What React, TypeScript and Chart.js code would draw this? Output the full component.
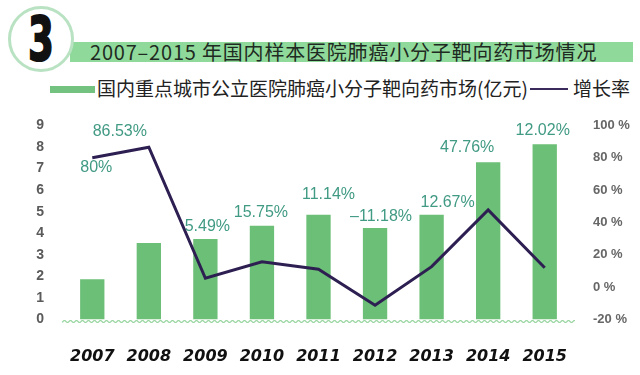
import React, { useEffect, useRef } from "react";
import { Chart, registerables } from "chart.js";

Chart.register(...registerables);

const years = ["2007", "2008", "2009", "2010", "2011", "2012", "2013", "2014", "2015"];
const marketSize = [1.87, 3.55, 3.74, 4.35, 4.86, 4.25, 4.86, 7.29, 8.13];
const growthRate = [80, 86.53, 5.49, 15.75, 11.14, -11.18, 12.67, 47.76, 12.02];
const leftTicks = [0, 9, 1];
const rightTicks = [-20, 100, 20];

const titleText = "2007–2015 年国内样本医院肺癌小分子靶向药市场情况";
const barLegend = "国内重点城市公立医院肺癌小分子靶向药市场(亿元)";
const lineLegend = "增长率";

// label placement: anchor ('line' or 'bar') and small pixel nudges
const labelAnchor = ["line", "line", "bar", "bar", "bar", "bar", "bar", "bar", "bar"];
const labelDx = [4, -29, 2, -1, 10, 6, 16, -21, -2];
const labelDy = [10, -16, -12, -13, -20, -11, -12, -15, -14];

const fmtRate = (v: number) => `${v}%`.replace("-", "–");

const labelPlugin = {
  id: "rateLabels",
  afterDatasetsDraw(chart: any) {
    const ctx = chart.ctx;
    const barMeta = chart.getDatasetMeta(0);
    const lineMeta = chart.getDatasetMeta(1);
    ctx.save();
    ctx.font = "16px 'Liberation Sans', Arial, sans-serif";
    ctx.fillStyle = "#419a84";
    ctx.textAlign = "center";
    ctx.textBaseline = "middle";
    growthRate.forEach((v, i) => {
      const el = labelAnchor[i] === "line" ? lineMeta.data[i] : barMeta.data[i];
      ctx.fillText(fmtRate(v), el.x + labelDx[i], el.y + labelDy[i]);
    });
    ctx.restore();
  },
};

const wavyBase = {
  id: "wavyBase",
  beforeDatasetsDraw(chart: any) {
    const { ctx, chartArea } = chart;
    const y = chartArea.bottom + 2;
    ctx.save();
    ctx.strokeStyle = "#9bd6a3";
    ctx.lineWidth = 1.2;
    ctx.beginPath();
    for (let x = chartArea.left - 2; x <= chartArea.right + 2; x += 0.5) {
      const yy = y + Math.sin((x / 3) * Math.PI) * 1;
      if (x === chartArea.left - 2) ctx.moveTo(x, yy);
      else ctx.lineTo(x, yy);
    }
    ctx.stroke();
    ctx.restore();
  },
};

export default function App() {
  const ref = useRef<HTMLCanvasElement>(null);

  useEffect(() => {
    if (!ref.current) return;
    const chart = new Chart(ref.current, {
      type: "bar",
      data: {
        labels: years,
        datasets: [
          {
            type: "bar",
            label: barLegend,
            data: marketSize,
            backgroundColor: "#6cbf76",
            barPercentage: 0.43,
            categoryPercentage: 1,
            yAxisID: "y",
            order: 2,
          },
          {
            type: "line",
            label: lineLegend,
            data: growthRate,
            borderColor: "#2e1f52",
            borderWidth: 3,
            pointRadius: 0,
            tension: 0,
            yAxisID: "y1",
            order: 1,
          } as any,
        ],
      },
      options: {
        animation: false,
        responsive: false,
        maintainAspectRatio: false,
        layout: { padding: { top: 125.5, left: 0, right: 0, bottom: 0 } },
        plugins: {
          legend: { display: false },
          title: { display: false },
          tooltip: { enabled: false },
        },
        scales: {
          x: {
            grid: { display: false },
            border: { display: false },
            ticks: {
              color: "#111",
              padding: 20,
              font: { family: "'DejaVu Sans', sans-serif", size: 16, weight: "bold", style: "italic" },
            },
            afterFit: (s: any) => {
              s.height = 55.5;
            },
          },
          y: {
            position: "left",
            min: leftTicks[0],
            max: leftTicks[1],
            grid: { display: false },
            border: { display: false },
            ticks: {
              stepSize: leftTicks[2],
              color: "#5a5a5a",
              padding: 12,
              font: { family: "'Liberation Sans', Arial, sans-serif", size: 14, weight: "bold" },
            },
            afterFit: (s: any) => {
              s.width = 64;
            },
          },
          y1: {
            position: "right",
            min: rightTicks[0],
            max: rightTicks[1],
            grid: { display: false },
            border: { display: false },
            ticks: {
              stepSize: rightTicks[2],
              color: "#666",
              padding: 12,
              font: { family: "'Liberation Sans', Arial, sans-serif", size: 13, weight: "bold" },
              callback: (v: any) => `${v} %`,
            },
            afterFit: (s: any) => {
              s.width = 67;
            },
          },
        },
      } as any,
      plugins: [wavyBase, labelPlugin],
    });
    return () => chart.destroy();
  }, []);

  const cjk = "'Noto Sans CJK SC', 'Noto Sans', sans-serif";

  return (
    <div
      style={{
        position: "fixed",
        left: 0,
        top: 0,
        width: 640,
        height: 375,
        background: "#fff",
        overflow: "hidden",
      }}
    >
      {/* title banner */}
      <div
        style={{
          position: "absolute",
          left: 70,
          top: 42,
          width: 563,
          height: 20,
          background: "#8fda9b",
        }}
      />
      <div
        style={{
          position: "absolute",
          left: 90,
          top: 42,
          height: 20,
          lineHeight: "20px",
          fontFamily: cjk,
          fontSize: 20,
          letterSpacing: "0.8px",
          color: "#1f2a22",
          whiteSpace: "nowrap",
        }}
      >
        {titleText}
      </div>
      {/* circle with 3 */}
      <div
        style={{
          position: "absolute",
          left: 8,
          top: 6,
          width: 60,
          height: 60,
          borderRadius: "50%",
          border: "3px solid #b9e2c2",
          background: "#fff",
          display: "flex",
          alignItems: "center",
          justifyContent: "center",
        }}
      >
        <span
          style={{
            fontFamily: "'DejaVu Sans', sans-serif",
            fontWeight: 900,
            fontSize: 60,
            lineHeight: "60px",
            color: "#111",
            transform: "scaleX(0.62)",
            display: "inline-block",
            WebkitTextStroke: "2px #111",
          }}
        >
          3
        </span>
      </div>
      {/* legend */}
      <div
        style={{
          position: "absolute",
          left: 50,
          top: 86,
          width: 45,
          height: 7,
          background: "#74c27f",
        }}
      />
      <div
        style={{
          position: "absolute",
          left: 97,
          top: 77,
          height: 22,
          lineHeight: "22px",
          fontFamily: cjk,
          fontSize: 19,
          color: "#222",
          whiteSpace: "nowrap",
        }}
      >
        {barLegend}
      </div>
      <div
        style={{
          position: "absolute",
          left: 530,
          top: 88,
          width: 38,
          height: 2,
          background: "#3b2a5c",
        }}
      />
      <div
        style={{
          position: "absolute",
          left: 573,
          top: 77,
          height: 22,
          lineHeight: "22px",
          fontFamily: cjk,
          fontSize: 19,
          color: "#222",
          whiteSpace: "nowrap",
        }}
      >
        {lineLegend}
      </div>
      <canvas
        ref={ref}
        width={640}
        height={375}
        style={{ position: "absolute", left: 0, top: 0, width: 640, height: 375 }}
      />
    </div>
  );
}
